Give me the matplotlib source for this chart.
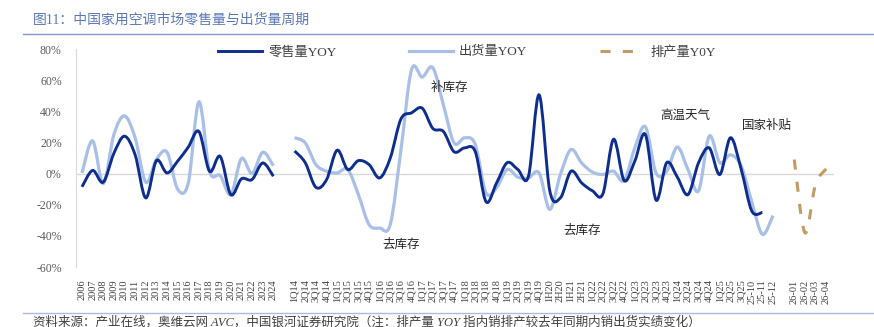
import numpy as np
import matplotlib
matplotlib.use('Agg')
import matplotlib.pyplot as plt
from matplotlib.path import Path
from matplotlib.patches import PathPatch
from matplotlib.lines import Line2D

plt.rcParams['font.family'] = ['Liberation Serif', 'Noto Sans CJK SC']

# 年度数据
years = ['2006', '2007', '2008', '2009', '2010', '2011', '2012', '2013', '2014', '2015',
         '2016', '2017', '2018', '2019', '2020', '2021', '2022', '2023', '2024']
retail_year = [-8.5, 2, -5.5, 13, 24, 12, -15.6, 8.3, 0.4, 8, 17, 27, 1.5, 11, -13.5, -3.4, -3.8, 6.8, -1.7]
ship_year = [0.4, 21, -6.4, 25, 37, 23, -5.5, 9, 13.7, -10, -6, 46, 1.5, -1.3, -13.5, 9.6, 0, 13.7, 5]

# 季度/月度数据
quarters = ['1Q14', '2Q14', '3Q14', '4Q14', '1Q15', '2Q15', '3Q15', '4Q15',
            '1Q16', '2Q16', '3Q16', '4Q16', '1Q17', '2Q17', '3Q17', '4Q17',
            '1Q18', '2Q18', '3Q18', '4Q18', '1Q19', '2Q19', '3Q19', '4Q19',
            '1H20', '2H20', '1H21', '2H21',
            '1Q22', '2Q22', '3Q22', '4Q22', '1Q23', '2Q23', '3Q23', '4Q23',
            '1Q24', '2Q24', '3Q24', '4Q24', '1Q25', '2Q25', '3Q25',
            '25-10', '25-11', '25-12']
retail_q = [14.5, 7, -8.8, -4, 15, 2.6, 8.3, 5.8, -2.8, 10, 35, 39, 42, 29, 27, 14,
            16.5, 14, -18, -6, 7, 2.6, -1.7, 50.5, -11, -15.6, 1.5, -6,
            -11, -13, 22, -4.5, 8, 25, -17, 7, -2.3, -13.5, 7, 16.5, -0.6, 23, 3,
            -24, -25, np.nan]
ship_q = [23, 19.7, 5.8, 1.5, 0.4, 2.6, -13.5, -32.7, -35, -32.7, 15, 66.7, 62, 68, 44, 19.7,
          23, 18.6, -12.4, -9, 2.6, -2.3, -2.8, 0.4, -23, -0.6, 15.4, 6.8,
          1, -0.6, 1.5, -4.5, 16.5, 30, 0.4, 1.5, 17, 2.6, -11, 24, 7, 12, 5,
          -18, -39, -27]

# 排产
months = ['26-01', '26-02', '26-03', '26-04']
plan_m = [9, -38, -7, 3]

labels = years + [''] + quarters + [''] + months
gap = [np.nan]
retail = np.array(retail_year + gap + retail_q + gap + [np.nan] * len(months), dtype=float)
ship = np.array(ship_year + gap + ship_q + gap + [np.nan] * len(months), dtype=float)
plan = np.array([np.nan] * (len(years) + 1 + len(quarters) + 1) + plan_m, dtype=float)
x = np.arange(len(labels))


def smooth_path(xs, ys):
    pts = np.column_stack([xs, ys])
    n = len(pts)
    verts = [pts[0]]
    codes = [Path.MOVETO]
    for i in range(n - 1):
        p0 = pts[i - 1] if i > 0 else pts[i]
        p1, p2 = pts[i], pts[i + 1]
        p3 = pts[i + 2] if i + 2 < n else p2
        verts += [p1 + (p2 - p0) / 6, p2 - (p3 - p1) / 6, p2]
        codes += [Path.CURVE4] * 3
    return Path(verts, codes)


def draw_smooth(ax, xs, ys, **kw):
    ok = ~np.isnan(ys)
    start = None
    for i in range(len(ys) + 1):
        if i < len(ys) and ok[i]:
            if start is None:
                start = i
        elif start is not None:
            if i - start > 1:
                ax.add_patch(PathPatch(smooth_path(xs[start:i], ys[start:i]), fill=False, **kw))
            start = None


fig = plt.figure(figsize=(8.74, 3.27), dpi=100)
ax = fig.add_axes([75.6 / 874, 1 - 267 / 327, 758 / 874, 218 / 327])

c_retail = '#0E2E8E'
c_ship = '#A8BFE8'
c_plan = '#C19C63'

ax.axhline(0, color='#D9D9D9', lw=1, zorder=1)
draw_smooth(ax, x, ship, edgecolor=c_ship, lw=2.3, zorder=3, capstyle='butt')
draw_smooth(ax, x, retail, edgecolor=c_retail, lw=2.1, zorder=4, capstyle='butt')
draw_smooth(ax, x, plan, edgecolor=c_plan, lw=2.2, zorder=4, linestyle=(0, (3.3, 4.0)), capstyle='butt')

ax.set_xlim(-0.6, 70.7)
ax.set_ylim(-60, 80)
ax.set_yticks(np.arange(-60, 81, 20))
ax.set_yticklabels([f'{v}%' for v in range(-60, 81, 20)], fontsize=8.5, color='#595959')
ax.set_xticks(x)
ax.set_xticklabels(labels, rotation=90, fontsize=7.5, color='#404040')
ax.tick_params(axis='both', length=0)
ax.tick_params(axis='y', pad=10)
ax.tick_params(axis='x', pad=9)
for s in ['top', 'right', 'bottom']:
    ax.spines[s].set_visible(False)
ax.spines['left'].set_color('#D9D9D9')

# 标注
notes = [('补库存', 34.6, 55.0), ('去库存', 30.0, -45.6), ('去库存', 47.0, -36.6),
         ('高温天气', 56.7, 37.2), ('国家补贴', 64.4, 30.8)]
for t, nx, ny in notes:
    ax.text(nx, ny, t, fontsize=9, ha='center', va='center', color='#262626')

handles = [Line2D([], [], color=c_retail, lw=2.1),
           Line2D([], [], color=c_ship, lw=2.3),
           Line2D([], [], color=c_plan, lw=2.2, linestyle=(0, (3.3, 4.0)))]
ax.legend(handles, ['零售量YOY', '出货量YOY', '排产量Y0Y'], loc='center', ncol=3,
          bbox_to_anchor=(0.516, 0.986), frameon=False, fontsize=9.5,
          handlelength=3.3, columnspacing=5.5, handletextpad=0.5,
          labelcolor='#404040')

fig.text(33 / 874, 1 - 20 / 327, '图11：中国家用空调市场零售量与出货量周期', fontsize=10,
         color='#5A78B8', va='center', ha='left')
fig.add_artist(Line2D([23 / 874, 1], [1 - 34 / 327] * 2, transform=fig.transFigure,
                      color='#7F99CC', lw=1))
fig.add_artist(Line2D([23 / 874, 1], [1 - 313 / 327] * 2, transform=fig.transFigure,
                      color='#A9BCE0', lw=1))
fig.text(33 / 874, 1 - 322 / 327,
         '资料来源：产业在线，奥维云网 AVC，中国银河证券研究院（注：排产量 YOY 指内销排产较去年同期内销出货实绩变化）',
         fontsize=9, style='italic', color='#404040', va='center', ha='left')

fig.savefig('out.png', dpi=100)
